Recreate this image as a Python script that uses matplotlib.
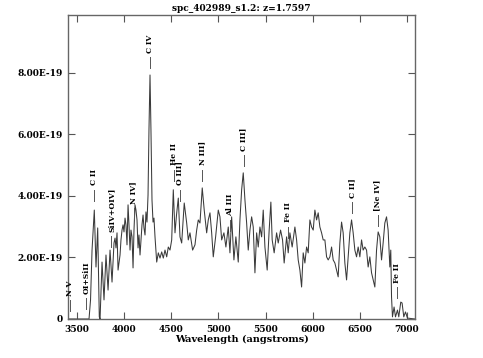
import numpy as np
import matplotlib
matplotlib.use("Agg")
import matplotlib.pyplot as plt
from matplotlib.ticker import FuncFormatter

title = "spc_402989_s1.2: z=1.7597"
z = 1.7597

wave = [3405, 3627, 3643, 3659, 3683, 3701, 3719, 3736, 3744, 3765,
        3786, 3807, 3829, 3850, 3871, 3892, 3903, 3913, 3924, 3935,
        3956, 3966, 3977, 3988, 3998, 4009, 4019, 4030, 4041, 4051,
        4062, 4072, 4083, 4094, 4104, 4115, 4125, 4136, 4147, 4157,
        4168, 4178, 4189, 4200, 4210, 4221, 4231, 4242, 4253, 4263,
        4274, 4284, 4295, 4306, 4316, 4327, 4345, 4362, 4380, 4398,
        4415, 4433, 4451, 4468, 4486, 4504, 4521, 4539, 4555, 4574,
        4592, 4610, 4637, 4663, 4680, 4698, 4726, 4751, 4769, 4786,
        4804, 4828, 4849, 4875, 4892, 4910, 4928, 4945, 4970, 4998,
        5016, 5034, 5058, 5079, 5104, 5122, 5140, 5164, 5185, 5210,
        5228, 5246, 5263, 5281, 5299, 5316, 5334, 5352, 5369, 5387,
        5405, 5422, 5440, 5458, 5475, 5493, 5517, 5538, 5556, 5570,
        5591, 5617, 5634, 5659, 5680, 5697, 5723, 5740, 5758, 5782,
        5811, 5829, 5846, 5864, 5882, 5899, 5917, 5935, 5952, 5970,
        5988, 6005, 6023, 6041, 6058, 6076, 6094, 6111, 6129, 6147,
        6164, 6182, 6200, 6217, 6235, 6253, 6270, 6288, 6306, 6323,
        6341, 6359, 6376, 6394, 6412, 6429, 6447, 6465, 6482, 6500,
        6518, 6535, 6553, 6571, 6588, 6606, 6624, 6641, 6659, 6677,
        6694, 6712, 6730, 6747, 6765, 6783, 6800, 6818, 6828, 6836,
        6846, 6863, 6878, 6899, 6913, 6934, 6948, 6966, 6984, 7005,
        7083]
flux = [0.0, 0.0, 0.62, 2.24, 3.54, 1.69, 2.96, 0.07, 0.0, 1.85,
        0.62, 2.08, 0.94, 2.24, 1.20, 2.47, 2.63, 2.31, 2.80, 1.59,
        2.08, 2.57, 2.89, 3.06, 2.83, 3.28, 3.06, 2.41, 3.71, 3.06,
        2.24, 2.89, 2.67, 1.66, 2.89, 3.71, 3.54, 3.22, 2.31, 2.73,
        2.08, 2.57, 3.06, 3.38, 2.96, 2.73, 3.48, 3.15, 4.03, 6.15,
        7.93, 6.15, 3.87, 3.15, 3.28, 2.67, 1.85, 2.15, 1.98, 2.18,
        1.98, 2.24, 2.02, 2.34, 2.24, 2.57, 4.20, 2.80, 3.38, 3.93,
        2.67, 2.47, 3.77, 3.12, 2.57, 2.80, 2.24, 2.41, 2.89, 3.22,
        3.12, 4.26, 3.54, 2.80, 3.22, 3.45, 2.80, 2.02, 2.67, 3.54,
        3.32, 2.57, 2.80, 2.34, 2.99, 2.15, 3.32, 1.92, 2.67, 1.85,
        3.22, 4.20, 4.75, 3.87, 3.12, 2.24, 2.89, 3.32, 2.99, 1.50,
        2.80, 2.34, 2.99, 2.67, 3.54, 2.34, 1.59, 2.89, 3.80, 2.57,
        2.15, 2.80, 2.47, 2.89, 2.57, 1.82, 2.67, 2.15, 2.80, 2.34,
        2.99, 2.57, 1.92, 1.59, 1.04, 2.15, 1.82, 2.34, 2.15, 3.22,
        2.99, 2.89, 3.54, 3.22, 3.45, 2.99, 2.80, 2.57, 2.57, 2.02,
        1.92, 2.02, 2.34, 1.92, 1.82, 1.59, 1.37, 2.47, 3.15, 2.80,
        1.82, 1.27, 2.02, 2.80, 3.22, 2.80, 2.24, 2.02, 2.34, 2.02,
        2.57, 2.24, 2.34, 2.24, 1.69, 2.02, 1.50, 1.27, 1.04, 2.24,
        2.83, 2.67, 1.92, 2.47, 3.12, 3.32, 2.89, 1.69, 2.24, 0.72,
        0.07, 0.39, 0.07, 0.29, 0.07, 0.55, 0.52, 0.07, 0.23, 0.03,
        0.0]

# emission line labels: name, rest wavelength, height of the label tick (1e-19)
line_names = ["N V", "OI+SiII", "C II", "SiIV+OIV]", "N IV]", "C IV", "He II",
              "O III]", "N III]", "Al III", "C III]", "Fe II", "C II]",
              "[Ne IV]", "Fe II"]
line_rest = [1240, 1304, 1335, 1400, 1486, 1549, 1640, 1663, 1750, 1857,
             1909, 2080, 2326, 2424, 2497]
line_top = [0.62, 0.68, 4.20, 2.70, 3.61, 8.52, 4.85, 4.20, 4.85, 3.22,
            5.33, 3.00, 3.80, 3.38, 1.04]

plt.rcParams['font.family'] = ['DejaVu Serif']
plt.rcParams['font.weight'] = 'bold'

fig = plt.figure(figsize=(4.83, 3.58), dpi=100)
ax = fig.add_axes([68/483, 39/358, 347/483, 304/358])

ax.plot(wave, np.array(flux) * 1e-19, color='#3a3a3a', lw=0.75)

for name, rest, top in zip(line_names, line_rest, line_top):
    w = rest * (1 + z)
    ax.plot([w, w], [top * 1e-19, (top - 0.36) * 1e-19], color='#555555', lw=0.7)
    ax.text(w, (top + 0.14) * 1e-19, name, rotation=90, ha='center', va='bottom',
            fontsize=5.5, fontweight='bold')

ax.set_xlim(3404, 7085)
ax.set_ylim(0, 9.88e-19)
ax.set_xticks([3500, 4000, 4500, 5000, 5500, 6000, 6500, 7000])
ax.set_yticks([0, 2e-19, 4e-19, 6e-19, 8e-19])
ax.yaxis.set_major_formatter(FuncFormatter(lambda v, p: "0" if v == 0 else "%.2E" % v))
ax.tick_params(direction='in', length=5, width=0.8, color='#555555',
               top=True, right=True, labelsize=6.5, pad=4)
for lab in ax.get_xticklabels() + ax.get_yticklabels():
    lab.set_fontweight('bold')
for s in ax.spines.values():
    s.set_color('#666666')
    s.set_linewidth(1.0)

ax.set_xlabel("Wavelength (angstroms)", fontsize=7, fontweight='bold', labelpad=1)
ax.set_title(title, fontsize=6.5, fontweight='bold', pad=3)

fig.savefig("out.png", dpi=100)
